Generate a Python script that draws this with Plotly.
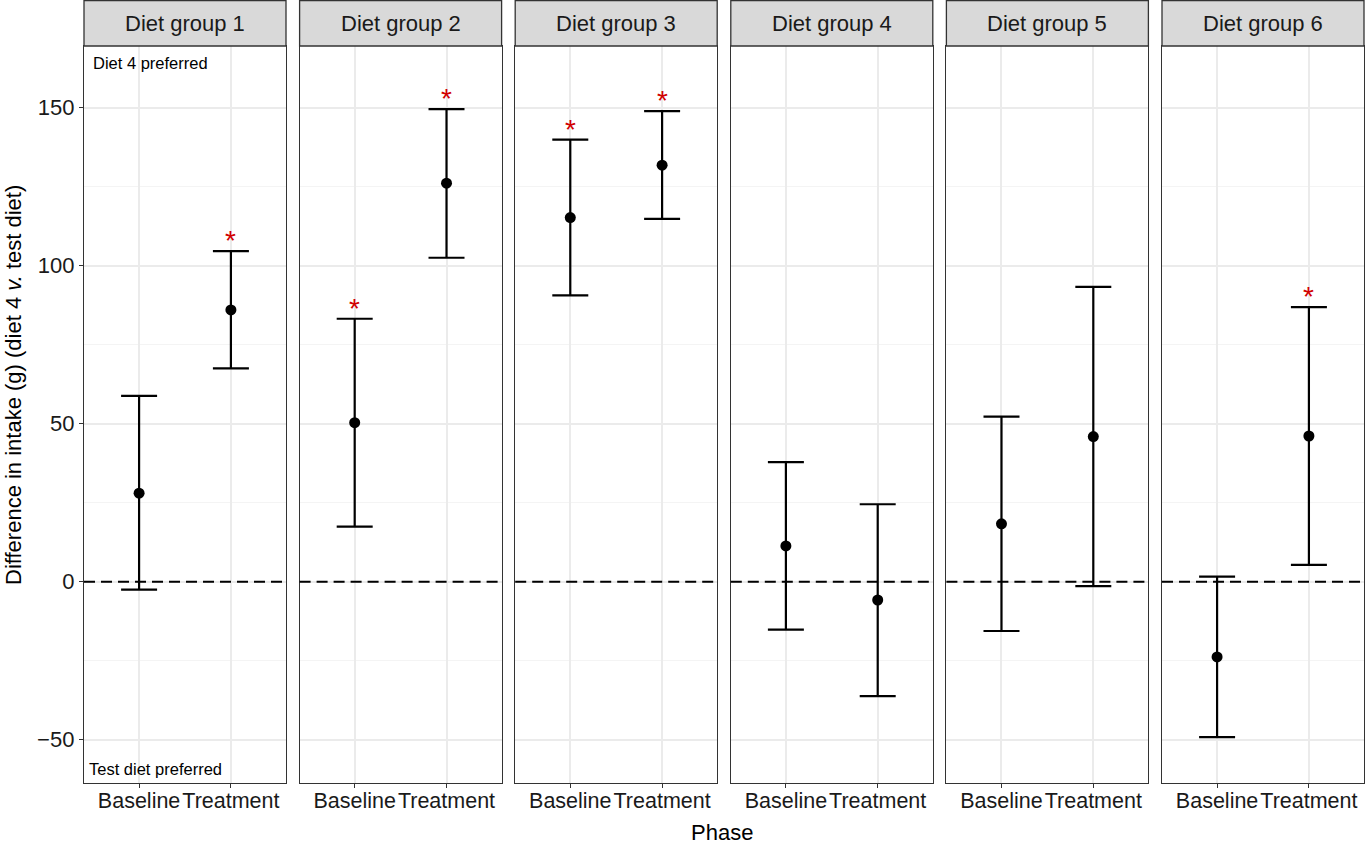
import plotly.graph_objects as go

groups = ["Diet group 1", "Diet group 2", "Diet group 3",
          "Diet group 4", "Diet group 5", "Diet group 6"]
phases = ["Baseline", "Treatment"]

base_mean = [28.0, 50.3, 115.2, 11.3, 18.3, -23.8]
base_upper = [58.8, 83.2, 139.9, 37.8, 52.2, 1.6]
base_lower = [-2.5, 17.4, 90.6, -15.2, -15.6, -49.2]
treat_mean = [86.0, 126.1, 131.8, -5.8, 45.9, 46.1]
treat_upper = [104.6, 149.5, 148.9, 24.5, 93.3, 86.9]
treat_lower = [67.5, 102.5, 114.8, -36.2, -1.4, 5.3]
base_sig = [False, True, True, False, False, False]
treat_sig = [True, True, True, False, False, True]

W, H = 1365, 845
ml, mr, mt, mb = 84, 1, 46, 62
pw = W - ml - mr
ph = H - mt - mb
panel_w = 202
step = (pw - panel_w) / 5
strip_h = 46 / ph

FONT = "Liberation Sans, Arial, Helvetica, sans-serif"
DARK = "#333333"
TXT = "#1a1a1a"

fig = go.Figure()
layout = {}
annotations = []
shapes = []

for i, g in enumerate(groups):
    n = "" if i == 0 else str(i + 1)
    xa, ya = "x" + n, "y" + n
    mean = [base_mean[i], treat_mean[i]]
    up = [base_upper[i], treat_upper[i]]
    lo = [base_lower[i], treat_lower[i]]
    fig.add_trace(go.Scatter(
        x=phases, y=mean, xaxis=xa, yaxis=ya, mode="markers",
        marker=dict(color="black", size=11),
        error_y=dict(type="data", symmetric=False,
                     array=[u - m for u, m in zip(up, mean)],
                     arrayminus=[m - l for m, l in zip(mean, lo)],
                     color="black", thickness=2.2, width=18),
        showlegend=False, hoverinfo="skip"))

    x0 = i * step / pw
    x1 = (i * step + panel_w) / pw
    layout["xaxis" + n] = dict(
        domain=[x0, min(x1, 1)], anchor=ya, type="category",
        range=[-0.6, 1.6], showgrid=True, gridcolor="#EBEBEB", gridwidth=1.5,
        ticks="outside", ticklen=4, tickwidth=1.3, tickcolor=DARK,
        showline=True, mirror=True, linecolor=DARK, linewidth=1.3,
        tickangle=0, ticklabelstandoff=-6,
        tickfont=dict(size=21.5, color=TXT, family=FONT),
        zeroline=False, fixedrange=True, automargin=False)
    layout["yaxis" + n] = dict(
        domain=[0, 1], anchor=xa, range=[-63.7, 169.5],
        tickvals=[-50, 0, 50, 100, 150],
        ticktext=["\u221250", "0", "50", "100", "150"],
        showgrid=True, gridcolor="#EBEBEB", gridwidth=1.5,
        minor=dict(tickvals=[-25, 25, 75, 125], showgrid=True,
                   gridcolor="#F4F4F4", gridwidth=1),
        showline=True, mirror=True, linecolor=DARK, linewidth=1.3,
        zeroline=False, fixedrange=True, automargin=False,
        showticklabels=(i == 0),
        ticks="outside" if i == 0 else "", ticklen=4, tickwidth=1.3,
        tickcolor=DARK,
        tickfont=dict(size=22, color=TXT, family=FONT))

    # dashed zero reference line
    shapes.append(dict(type="line", xref=xa + " domain", yref=ya,
                       x0=0, x1=1, y0=0, y1=0, layer="above",
                       line=dict(color="black", width=2, dash="11px,6px")))
    # facet strip
    shapes.append(dict(type="rect", xref=xa + " domain", yref="paper",
                       x0=0, x1=1, y0=1, y1=1 + strip_h - 0.5 / ph,
                       fillcolor="#D9D9D9", line=dict(color=DARK, width=1.3)))
    annotations.append(dict(text=g, xref=xa + " domain", yref="paper",
                            x=0.5, y=1 + 23 / ph, showarrow=False,
                            xanchor="center", yanchor="middle",
                            font=dict(size=22, color=TXT, family=FONT)))
    # significance stars
    for ph_name, sig, u in [("Baseline", base_sig[i], base_upper[i]),
                            ("Treatment", treat_sig[i], treat_upper[i])]:
        if sig:
            annotations.append(dict(text="*", xref=xa, yref=ya, x=ph_name,
                                    y=u, yanchor="bottom", showarrow=False,
                                    yshift=-7,
                                    font=dict(size=28, color="#D10000",
                                              family=FONT)))

annotations.append(dict(text="Diet 4 preferred", xref="x domain",
                        yref="y domain", x=0.035, y=1 - 17 / ph,
                        xanchor="left", yanchor="middle", showarrow=False,
                        font=dict(size=16.5, color="black", family=FONT)))
annotations.append(dict(text="Test diet preferred", xref="x domain",
                        yref="y domain", x=0.015, y=14 / ph,
                        xanchor="left", yanchor="middle", showarrow=False,
                        font=dict(size=16.5, color="black", family=FONT)))
annotations.append(dict(text="Phase", xref="paper", yref="paper",
                        x=(722 - ml) / pw, y=-(832 - mt - ph) / ph,
                        xanchor="center", yanchor="middle", showarrow=False,
                        font=dict(size=22, color="black", family=FONT)))
annotations.append(dict(text="Difference in intake (g) (diet 4 <i>v.</i> test diet)",
                        xref="paper", yref="paper", textangle=-90,
                        x=-(ml - 13) / pw, y=1 - (385 - mt) / ph,
                        xanchor="center", yanchor="middle", showarrow=False,
                        font=dict(size=22, color="black", family=FONT)))

fig.update_layout(**layout)
fig.update_layout(
    template="none",
    width=W, height=H,
    margin=dict(l=ml, r=mr, t=mt, b=mb),
    paper_bgcolor="white", plot_bgcolor="white",
    shapes=shapes, annotations=annotations,
    font=dict(family=FONT),
)

fig.write_html("out.html", config=dict(displayModeBar=False),
               post_script="document.body.style.margin='0';")
